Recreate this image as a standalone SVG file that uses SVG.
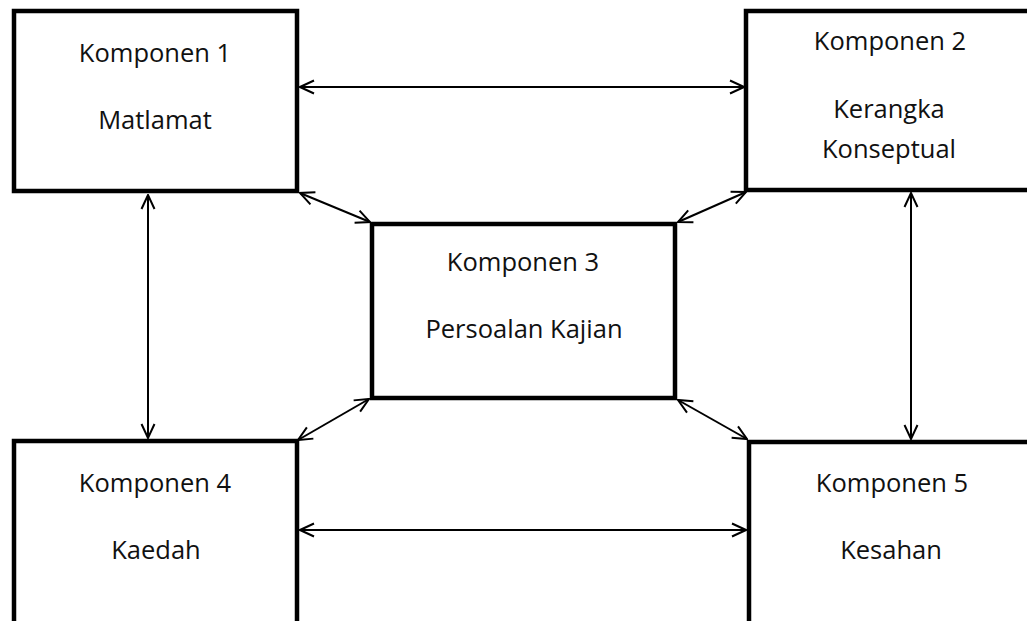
<svg xmlns="http://www.w3.org/2000/svg" width="1027" height="621" viewBox="0 0 1027 621">
<style>
.box{fill:#fff;stroke:#000;stroke-width:4.5}
.t{font-family:"Open Sans","Noto Sans",sans-serif;font-size:25.5px;fill:#111;text-anchor:middle}
.c{stroke:#000;stroke-width:2;fill:none;marker-start:url(#a);marker-end:url(#a)}
</style>
<defs>
<marker id="a" viewBox="0 0 16 16" refX="15" refY="8" markerWidth="16" markerHeight="16" markerUnits="userSpaceOnUse" orient="auto-start-reverse">
<path d="M1,1.5 L15,8 L1,14.5" fill="none" stroke="#000" stroke-width="2"/>
</marker>
</defs>
<rect width="1027" height="621" fill="#fff"/>
<g id="n1"><rect class="box" x="14" y="11" width="283" height="180"/>
<text class="t" x="155" y="62">Komponen 1</text><text class="t" x="155" y="129">Matlamat</text></g>
<g id="n2"><rect class="box" x="746" y="11" width="290" height="179"/>
<text class="t" x="890" y="50">Komponen 2</text><text class="t" x="889" y="118">Kerangka</text><text class="t" x="889" y="158">Konseptual</text></g>
<g id="n3"><rect class="box" x="372" y="224" width="303" height="174"/>
<text class="t" x="523" y="271">Komponen 3</text><text class="t" x="524" y="338">Persoalan Kajian</text></g>
<g id="n4"><rect class="box" x="14" y="441" width="283" height="200"/>
<text class="t" x="155" y="492">Komponen 4</text><text class="t" x="156" y="559">Kaedah</text></g>
<g id="n5"><rect class="box" x="749" y="442" width="290" height="200"/>
<text class="t" x="892" y="492">Komponen 5</text><text class="t" x="891" y="559">Kesahan</text></g>
<g id="connectors">
<line class="c" x1="300" y1="87" x2="744" y2="87"/>
<line class="c" x1="300" y1="530" x2="746" y2="530"/>
<line class="c" x1="148" y1="195" x2="148" y2="438"/>
<line class="c" x1="911" y1="193" x2="911" y2="439"/>
<line class="c" x1="300" y1="193" x2="370" y2="222"/>
<line class="c" x1="746" y1="192" x2="678" y2="222"/>
<line class="c" x1="298" y1="440" x2="369" y2="399"/>
<line class="c" x1="747" y1="439" x2="678" y2="400"/>
</g>
</svg>
